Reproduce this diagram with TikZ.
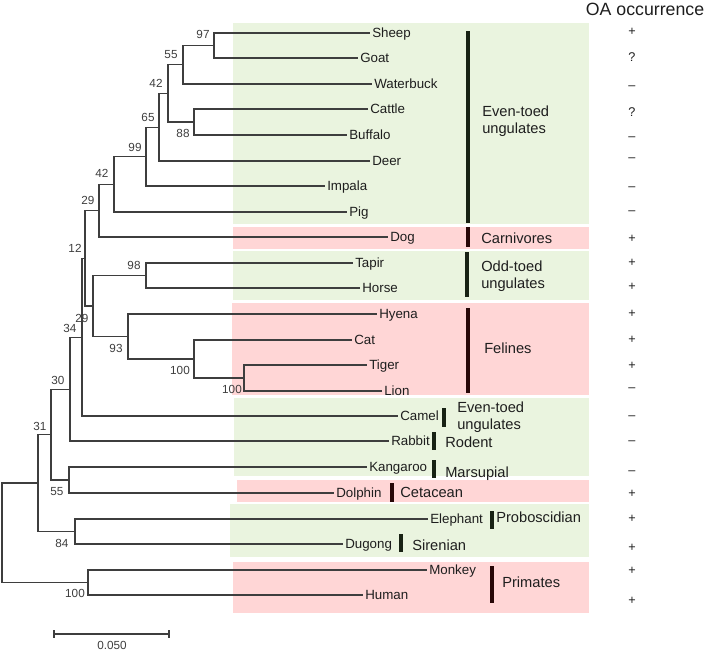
\documentclass[tikz,border=0pt]{standalone}
\usepackage{fontspec}
\setmainfont{Liberation Sans}
\definecolor{boxgreen}{RGB}{234,244,223}
\definecolor{boxpink}{RGB}{255,214,214}
\definecolor{bargreen}{RGB}{24,34,20}
\definecolor{barred}{RGB}{40,8,8}
\definecolor{treeline}{RGB}{62,62,62}
\definecolor{txt}{RGB}{30,30,30}
\begin{document}
\begin{tikzpicture}[x=0.75pt,y=-0.75pt,
  branch/.style={draw=treeline,line width=0.8pt},
  leaf/.style={anchor=west,inner xsep=1.5pt,inner ysep=0pt,text height=7.2pt,text depth=0pt,
    font=\fontsize{10}{12}\selectfont,text=txt},
  boot/.style={anchor=center,inner sep=0pt,text height=6.3pt,text depth=0pt,
    font=\fontsize{8.8}{10}\selectfont,text=treeline},
  grp/.style={anchor=base west,inner sep=0pt,align=left,
    font=\fontsize{11}{12.75}\selectfont,text=txt},
  sgn/.style={anchor=base,inner sep=0pt,font=\fontsize{9.5}{10}\selectfont,text=txt},
  cladebar/.style={line width=3pt},
]
\useasboundingbox (0,0) rectangle (709,650);
% coloured background boxes
\fill[boxgreen] (233,23) rectangle (589,224);
\fill[boxpink]  (233,227) rectangle (589,249);
\fill[boxgreen] (233,251) rectangle (589,300);
\fill[boxpink]  (232,303) rectangle (589,395);
\fill[boxgreen] (234,398) rectangle (589,476);
\fill[boxpink]  (237,480) rectangle (589,502);
\fill[boxgreen] (230,504) rectangle (589,557);
\fill[boxpink]  (233,562) rectangle (589,613);

% leaves
\node[leaf] (Sheep) at (370,33) {Sheep};
\node[leaf] (Goat) at (358,58) {Goat};
\node[leaf] (Waterbuck) at (372,84) {Waterbuck};
\node[leaf] (Cattle) at (368,109) {Cattle};
\node[leaf] (Buffalo) at (347,135) {Buffalo};
\node[leaf] (Deer) at (370,161) {Deer};
\node[leaf] (Impala) at (325,186) {Impala};
\node[leaf] (Pig) at (347,212) {Pig};
\node[leaf] (Dog) at (388,237) {Dog};
\node[leaf] (Tapir) at (353,263) {Tapir};
\node[leaf] (Horse) at (360,288) {Horse};
\node[leaf] (Hyena) at (377,314) {Hyena};
\node[leaf] (Cat) at (352,340) {Cat};
\node[leaf] (Tiger) at (367,365) {Tiger};
\node[leaf] (Lion) at (382,391) {Lion};
\node[leaf] (Camel) at (398,416) {Camel};
\node[leaf] (Rabbit) at (389,441) {Rabbit};
\node[leaf] (Kangaroo) at (367,467) {Kangaroo};
\node[leaf] (Dolphin) at (334,493) {Dolphin};
\node[leaf] (Elephant) at (428,519) {Elephant};
\node[leaf] (Dugong) at (343,544) {Dugong};
\node[leaf] (Monkey) at (427,570) {Monkey};
\node[leaf] (Human) at (363,595) {Human};

% internal nodes
\coordinate (n97) at (214,45.5);
\coordinate (n55a) at (183,64.8);
\coordinate (n88) at (194,122);
\coordinate (n42a) at (168,93.4);
\coordinate (n65) at (159,127.2);
\coordinate (n99) at (146,156.6);
\coordinate (n42b) at (114,184.3);
\coordinate (n29a) at (99,210.6);
\coordinate (n98) at (146,275.5);
\coordinate (n100b) at (244,378);
\coordinate (n100a) at (194,359);
\coordinate (n93) at (128,336.5);
\coordinate (n29b) at (93,306);
\coordinate (n12) at (85,258.3);
\coordinate (n34) at (82,337.2);
\coordinate (n30) at (70,389.1);
\coordinate (n55b) at (69,480);
\coordinate (n31) at (51,434.5);
\coordinate (n84) at (75,531.5);
\coordinate (nX) at (38,483);
\coordinate (n100c) at (88,582.5);
\coordinate (root) at (2,532.8);

% branches
\draw[branch] (n97) |- (Sheep.west);
\draw[branch] (n97) |- (Goat.west);
\draw[branch] (n55a) |- (n97);
\draw[branch] (n55a) |- (Waterbuck.west);
\draw[branch] (n88) |- (Cattle.west);
\draw[branch] (n88) |- (Buffalo.west);
\draw[branch] (n42a) |- (n55a);
\draw[branch] (n42a) |- (n88);
\draw[branch] (n65) |- (n42a);
\draw[branch] (n65) |- (Deer.west);
\draw[branch] (n99) |- (n65);
\draw[branch] (n99) |- (Impala.west);
\draw[branch] (n42b) |- (n99);
\draw[branch] (n42b) |- (Pig.west);
\draw[branch] (n29a) |- (n42b);
\draw[branch] (n29a) |- (Dog.west);
\draw[branch] (n98) |- (Tapir.west);
\draw[branch] (n98) |- (Horse.west);
\draw[branch] (n100b) |- (Tiger.west);
\draw[branch] (n100b) |- (Lion.west);
\draw[branch] (n100a) |- (Cat.west);
\draw[branch] (n100a) |- (n100b);
\draw[branch] (n93) |- (Hyena.west);
\draw[branch] (n93) |- (n100a);
\draw[branch] (n29b) |- (n98);
\draw[branch] (n29b) |- (n93);
\draw[branch] (n12) |- (n29a);
\draw[branch] (n12) |- (n29b);
\draw[branch] (n34) |- (n12);
\draw[branch] (n34) |- (Camel.west);
\draw[branch] (n30) |- (n34);
\draw[branch] (n30) |- (Rabbit.west);
\draw[branch] (n55b) |- (Kangaroo.west);
\draw[branch] (n55b) |- (Dolphin.west);
\draw[branch] (n31) |- (n30);
\draw[branch] (n31) |- (n55b);
\draw[branch] (n84) |- (Elephant.west);
\draw[branch] (n84) |- (Dugong.west);
\draw[branch] (nX) |- (n31);
\draw[branch] (nX) |- (n84);
\draw[branch] (n100c) |- (Monkey.west);
\draw[branch] (n100c) |- (Human.west);
\draw[branch] (root) |- (nX);
\draw[branch] (root) |- (n100c);

% bootstrap values
\node[boot] (b97) at (203,34) {97};
\node[boot] (b55a) at (171,54) {55};
\node[boot] (b42a) at (156,83) {42};
\node[boot] (b65) at (148,117) {65};
\node[boot] (b88) at (183,133) {88};
\node[boot] (b99) at (135,147) {99};
\node[boot] (b42b) at (102,173) {42};
\node[boot] (b29a) at (88,200) {29};
\node[boot] (b12) at (75,248) {12};
\node[boot] (b98) at (134,265) {98};
\node[boot] (b29b) at (82,318) {29};
\node[boot] (b34) at (70,328) {34};
\node[boot] (b93) at (116,348) {93};
\node[boot] (b100a) at (180,370) {100};
\node[boot] (b100b) at (232,389) {100};
\node[boot] (b30) at (58,380) {30};
\node[boot] (b31) at (40,426) {31};
\node[boot] (b55b) at (57,491) {55};
\node[boot] (b84) at (62,543) {84};
\node[boot] (b100c) at (75,593) {100};

% clade bars
\draw[cladebar,bargreen] (468,31) -- (468,223);
\draw[cladebar,barred] (468,227) -- (468,247);
\draw[cladebar,bargreen] (467,252) -- (467,297);
\draw[cladebar,barred] (468,308) -- (468,393);
\draw[cladebar,bargreen] (444,408) -- (444,427);
\draw[cladebar,bargreen] (434,432) -- (434,450);
\draw[cladebar,bargreen] (434,460) -- (434,478);
\draw[cladebar,barred] (392,483) -- (392,502);
\draw[cladebar,bargreen] (492,511) -- (492,529);
\draw[cladebar,bargreen] (401,534) -- (401,552);
\draw[cladebar,barred] (492,566) -- (492,603);

% group labels (base = baseline of last line)
\node[grp] (gEven) at (482,133) {Even-toed\\ungulates};
\node[grp] (gCarn) at (481,243) {Carnivores};
\node[grp] (gOdd) at (481,288) {Odd-toed\\ungulates};
\node[grp] (gFel) at (484,353) {Felines};
\node[grp] (gEven2) at (457,429) {Even-toed\\ungulates};
\node[grp] (gRod) at (445,447) {Rodent};
\node[grp] (gMar) at (445,477) {Marsupial};
\node[grp] (gCet) at (400,497) {Cetacean};
\node[grp] (gSir) at (412,550) {Sirenian};
\node[grp] (gPro) at (496,522) {Proboscidian};
\node[grp] (gPri) at (502,587) {Primates};

% OA occurrence column
\node[anchor=base,inner sep=0pt,font=\fontsize{13.3}{15}\selectfont,text=txt] (oa) at (645,15) {OA occurrence};
\node[sgn] (s1) at (632,35.5) {+};
\node[sgn] (s2) at (632,61.6) {?};
\node[sgn] (s3) at (632,89.6) {–};
\node[sgn] (s4) at (632,116.6) {?};
\node[sgn] (s5) at (632,140.6) {–};
\node[sgn] (s6) at (632,161.6) {–};
\node[sgn] (s7) at (632,190.6) {–};
\node[sgn] (s8) at (632,214.6) {–};
\node[sgn] (s9) at (632,242.5) {+};
\node[sgn] (s10) at (632,266.5) {+};
\node[sgn] (s11) at (632,290.5) {+};
\node[sgn] (s12) at (632,317.5) {+};
\node[sgn] (s13) at (632,343.5) {+};
\node[sgn] (s14) at (632,369.5) {+};
\node[sgn] (s15) at (632,391.6) {–};
\node[sgn] (s16) at (632,419.6) {–};
\node[sgn] (s17) at (632,444.6) {–};
\node[sgn] (s18) at (632,474.6) {–};
\node[sgn] (s19) at (632,497.5) {+};
\node[sgn] (s20) at (632,522.5) {+};
\node[sgn] (s21) at (632,551.5) {+};
\node[sgn] (s22) at (632,574.5) {+};
\node[sgn] (s23) at (632,604.5) {+};

% scale bar
\coordinate (sbL) at (54,634);
\coordinate (sbR) at (169,634);
\draw[branch] (sbL) -- (sbR);
\draw[branch] ([yshift=3pt]sbL) -- ([yshift=-3pt]sbL);
\draw[branch] ([yshift=3pt]sbR) -- ([yshift=-3pt]sbR);
\node[boot] (sbLab) at (112,645) {0.050};
\end{tikzpicture}
\end{document}
